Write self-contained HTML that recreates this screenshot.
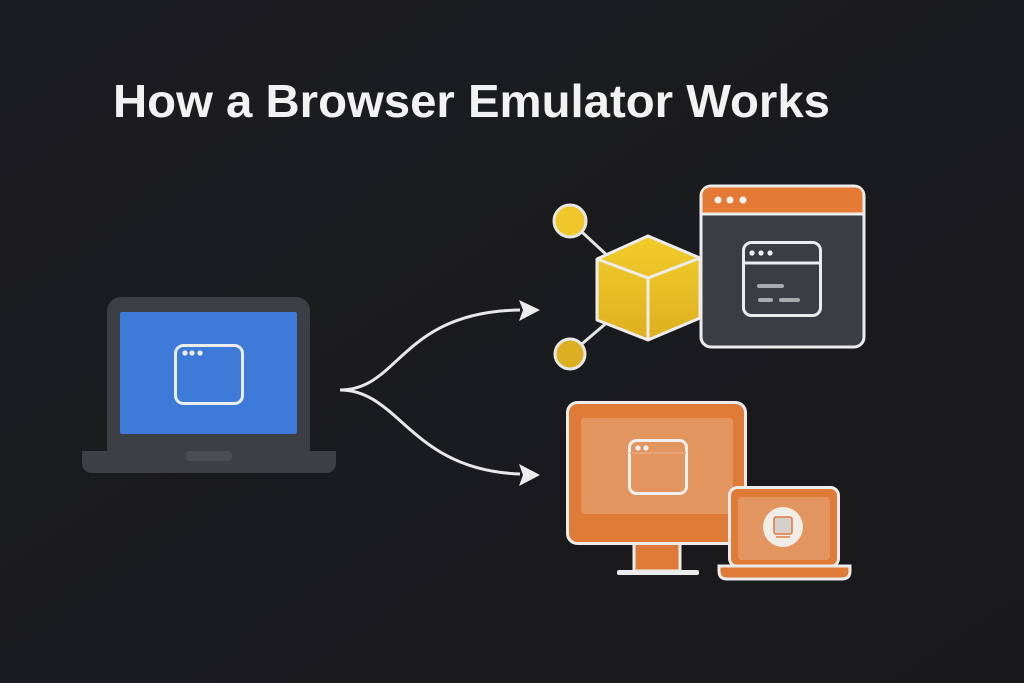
<!DOCTYPE html>
<html><head><style>
html,body{margin:0;padding:0;background:#1b1c1f;}
svg{display:block}
</style></head><body>
<svg width="1024" height="683" viewBox="0 0 1024 683" xmlns="http://www.w3.org/2000/svg">
<defs>
<linearGradient id="bg" x1="0" y1="0" x2="1" y2="1"><stop offset="0" stop-color="#1c1d20"/><stop offset="1" stop-color="#19191c"/></linearGradient>
<linearGradient id="cy" x1="0" y1="0" x2="0" y2="1"><stop offset="0" stop-color="#f2cc2a"/><stop offset="1" stop-color="#ddb020"/></linearGradient>
</defs>
<rect width="1024" height="683" fill="url(#bg)"/>
<text x="113" y="117" font-family="Liberation Sans, sans-serif" font-weight="bold" font-size="46" textLength="717" lengthAdjust="spacingAndGlyphs" fill="#f2f2f2">How a Browser Emulator Works</text>

<!-- laptop -->
<rect x="107" y="297" width="203" height="165" rx="14" fill="#3c4044"/>
<rect x="120" y="312" width="177" height="122" rx="2" fill="#3e7bd8"/>
<path d="M82 451 H336 V462 Q336 473 325 473 H93 Q82 473 82 462 Z" fill="#3d4145"/>
<rect x="186" y="451" width="46" height="10" rx="4" fill="#4a4e53"/>
<rect x="175.5" y="345.5" width="67" height="58" rx="8" fill="none" stroke="#ececec" stroke-width="3"/>
<circle cx="185" cy="353" r="2.6" fill="#eee"/><circle cx="192" cy="353" r="2.6" fill="#eee"/><circle cx="200" cy="353" r="2.6" fill="#eee"/>

<!-- arrows -->
<path d="M340 390 C400 390 400 312 520 310" fill="none" stroke="#e8e8e8" stroke-width="3"/>
<path d="M340 390 C400 390 410 470 520 474" fill="none" stroke="#e8e8e8" stroke-width="3"/>
<polygon points="540,310 519,300 523,310 519,321" fill="#ececec"/>
<polygon points="540,475 519,464 523,475 519,486" fill="#ececec"/>

<!-- cube -->
<line x1="570" y1="221" x2="610" y2="258" stroke="#e6e6e6" stroke-width="3"/>
<line x1="570" y1="354" x2="610" y2="320" stroke="#e6e6e6" stroke-width="3"/>
<circle cx="570" cy="221" r="16" fill="#f0c72a" stroke="#e6e6e6" stroke-width="3"/>
<circle cx="570" cy="354" r="15" fill="#dcae22" stroke="#e6e6e6" stroke-width="3"/>
<polygon points="648,236 597,259 597,320 648,340 700,318 700,258" fill="url(#cy)" stroke="#ececec" stroke-width="3" stroke-linejoin="round"/>
<polyline points="597,259 648,278 700,258" fill="none" stroke="#ececec" stroke-width="3"/>
<line x1="648" y1="278" x2="648" y2="340" stroke="#ececec" stroke-width="3"/>

<!-- browser window -->
<rect x="701" y="186" width="163" height="161" rx="10" fill="#3a3d42" stroke="#ececec" stroke-width="3"/>
<path d="M702.5 213 V196 Q702.5 187.5 711 187.5 H854 Q862.5 187.5 862.5 196 V213 Z" fill="#e57a35"/>
<line x1="701" y1="214" x2="864" y2="214" stroke="#ececec" stroke-width="3"/>
<circle cx="718" cy="200" r="3.5" fill="#f2f2f2"/><circle cx="730" cy="200" r="3.5" fill="#f2f2f2"/><circle cx="743" cy="200" r="3.5" fill="#f2f2f2"/>
<rect x="743.5" y="242.5" width="77" height="73" rx="8" fill="none" stroke="#ececec" stroke-width="3"/>
<line x1="743" y1="263" x2="821" y2="263" stroke="#ececec" stroke-width="3"/>
<circle cx="752" cy="253" r="2.6" fill="#eee"/><circle cx="761" cy="253" r="2.6" fill="#eee"/><circle cx="770" cy="253" r="2.6" fill="#eee"/>
<rect x="757" y="284" width="27" height="4" rx="2" fill="#a9abad"/>
<rect x="758" y="298" width="15" height="4" rx="2" fill="#a9abad"/>
<rect x="779" y="298" width="21" height="4" rx="2" fill="#a9abad"/>

<!-- monitor -->
<rect x="634" y="543" width="46" height="28" fill="#e07a38" stroke="#ececec" stroke-width="3"/>
<rect x="617" y="570" width="82" height="5" rx="2" fill="#ececec"/>
<rect x="567.5" y="402.5" width="178" height="141" rx="10" fill="#df7a37" stroke="#ececec" stroke-width="3"/>
<rect x="581" y="418" width="152" height="96" rx="3" fill="#e2955f"/>
<rect x="629.5" y="440.5" width="57" height="53" rx="7" fill="none" stroke="#f0f0f0" stroke-width="3"/>
<line x1="630" y1="453" x2="686" y2="453" stroke="#e6a47a" stroke-width="2"/>
<circle cx="638" cy="448" r="2.6" fill="#f0f0f0"/><circle cx="646" cy="448" r="2.6" fill="#f0f0f0"/>

<!-- small laptop -->
<rect x="729.5" y="487.5" width="109" height="79" rx="8" fill="#df7a37" stroke="#ececec" stroke-width="3"/>
<rect x="738" y="497" width="92" height="63" rx="3" fill="#e2955f"/>
<path d="M719 566 H850 V571 Q850 579 842 579 H727 Q719 579 719 571 Z" fill="#df7a37" stroke="#ececec" stroke-width="3"/>
<circle cx="783" cy="527" r="20" fill="#f0ece8"/>
<rect x="774" y="517" width="18" height="17" rx="2" fill="#d5d0cc" stroke="#e07a38" stroke-width="1.5"/>
<line x1="776" y1="537" x2="790" y2="537" stroke="#e07a38" stroke-width="1.5"/>
</svg>
</body></html>
